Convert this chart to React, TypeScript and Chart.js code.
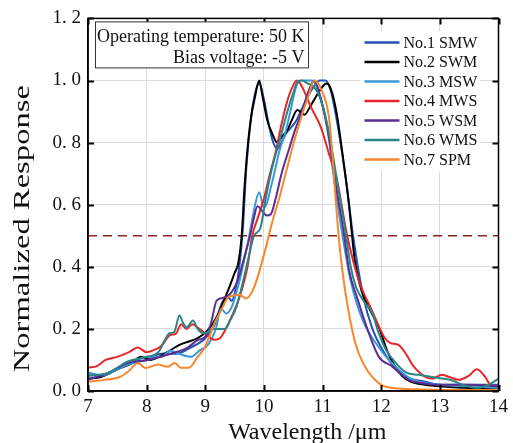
import React, { useEffect, useRef } from "react";
import { Chart, registerables } from "chart.js";

Chart.register(...registerables);

// ---------- data ----------
const seriesNames = ["No.1 SMW", "No.2 SWM", "No.3 MSW", "No.4 MWS", "No.5 WSM", "No.6 WMS", "No.7 SPM"];
const seriesColors = ["#2454B5", "#000000", "#3A9AD9", "#E8262A", "#5C2D91", "#2A8585", "#F7862D"];

const smwX = [7, 7.25, 7.5, 7.75, 8, 8.25, 8.5, 8.75, 9, 9.15, 9.3, 9.4, 9.45, 9.52, 9.58, 9.64, 9.7, 9.78, 9.85, 9.92, 10.0, 10.08, 10.16, 10.23, 10.3, 10.38, 10.47, 10.55, 10.65, 10.75, 10.85, 10.95, 11.05, 11.15, 11.28, 11.4, 11.52, 11.7, 11.85, 12.0, 12.13, 12.3, 12.5, 12.75, 13, 13.5, 14];
const smwY = [0.05, 0.05, 0.07, 0.09, 0.10, 0.12, 0.12, 0.14, 0.17, 0.21, 0.29, 0.30, 0.29, 0.33, 0.40, 0.52, 0.72, 0.88, 0.96, 0.99, 0.94, 0.86, 0.80, 0.78, 0.80, 0.83, 0.85, 0.87, 0.91, 0.95, 0.98, 1.0, 1.0, 0.96, 0.83, 0.68, 0.50, 0.30, 0.20, 0.14, 0.10, 0.06, 0.04, 0.03, 0.02, 0.02, 0.02];

const swmX = [7, 7.22, 7.5, 7.75, 7.9, 8.07, 8.3, 8.58, 8.87, 9.04, 9.2, 9.38, 9.5, 9.56, 9.62, 9.67, 9.72, 9.78, 9.84, 9.92, 9.97, 10.06, 10.14, 10.23, 10.31, 10.4, 10.47, 10.57, 10.69, 10.8, 10.91, 11.0, 11.06, 11.11, 11.23, 11.37, 11.45, 11.55, 11.67, 11.84, 11.97, 12.1, 12.2, 12.35, 12.5, 12.75, 13, 13.5, 14];
const swmY = [0.04, 0.045, 0.07, 0.09, 0.11, 0.10, 0.12, 0.15, 0.17, 0.195, 0.24, 0.32, 0.38, 0.41, 0.5, 0.66, 0.78, 0.88, 0.94, 1.0, 0.955, 0.87, 0.83, 0.80, 0.82, 0.84, 0.87, 0.905, 0.89, 0.92, 0.955, 0.98, 0.99, 0.985, 0.905, 0.72, 0.6, 0.42, 0.32, 0.25, 0.2, 0.13, 0.09, 0.05, 0.03, 0.02, 0.015, 0.01, 0.01];

const mswX = [7, 7.25, 7.5, 7.75, 8, 8.25, 8.4, 8.55, 8.75, 8.9, 9.05, 9.18, 9.27, 9.36, 9.45, 9.55, 9.65, 9.75, 9.85, 9.92, 10.0, 10.15, 10.26, 10.37, 10.45, 10.55, 10.62, 10.72, 10.82, 10.9, 11.0, 11.1, 11.2, 11.34, 11.49, 11.68, 11.96, 12.18, 12.5, 13, 13.5, 14];
const mswY = [0.06, 0.05, 0.07, 0.09, 0.11, 0.11, 0.13, 0.12, 0.11, 0.13, 0.15, 0.2, 0.265, 0.25, 0.27, 0.33, 0.41, 0.5, 0.6, 0.64, 0.59, 0.68, 0.77, 0.835, 0.9, 0.98, 1.0, 1.0, 1.0, 0.98, 0.92, 0.82, 0.675, 0.5, 0.346, 0.23, 0.14, 0.09, 0.04, 0.02, 0.015, 0.01];

const mwsX = [7, 7.15, 7.3, 7.5, 7.7, 7.85, 8.0, 8.1, 8.25, 8.4, 8.5, 8.59, 8.68, 8.78, 8.9, 9.0, 9.15, 9.25, 9.35, 9.45, 9.58, 9.72, 9.8, 9.9, 10.0, 10.09, 10.2, 10.3, 10.4, 10.5, 10.56, 10.62, 10.7, 10.8, 10.97, 11.1, 11.25, 11.42, 11.62, 11.84, 12.05, 12.15, 12.3, 12.42, 12.55, 12.76, 12.88, 13.03, 13.15, 13.32, 13.5, 13.63, 13.77, 13.86, 14];
const mwsY = [0.075, 0.08, 0.1, 0.11, 0.125, 0.14, 0.125, 0.13, 0.145, 0.18, 0.185, 0.215, 0.2, 0.215, 0.2, 0.185, 0.165, 0.17, 0.2, 0.24, 0.3, 0.4, 0.5, 0.56, 0.62, 0.69, 0.77, 0.86, 0.935, 0.985, 1.0, 0.99, 0.96, 0.915, 0.85, 0.77, 0.675, 0.5, 0.355, 0.26, 0.174, 0.155, 0.148, 0.12, 0.08, 0.045, 0.04, 0.052, 0.046, 0.036, 0.05, 0.07, 0.046, 0.02, 0.015];

const wsmX = [7, 7.34, 7.68, 8.02, 8.41, 8.7, 8.87, 9.0, 9.1, 9.19, 9.3, 9.41, 9.55, 9.65, 9.75, 9.82, 9.89, 9.97, 10.05, 10.12, 10.2, 10.3, 10.43, 10.53, 10.63, 10.77, 10.86, 10.97, 11.1, 11.23, 11.37, 11.45, 11.59, 11.79, 11.96, 12.18, 12.47, 12.7, 13, 13.5, 14];
const wsmY = [0.036, 0.058, 0.09, 0.1, 0.12, 0.14, 0.164, 0.175, 0.22, 0.29, 0.3, 0.31, 0.355, 0.42, 0.49, 0.55, 0.595, 0.58, 0.565, 0.57, 0.62, 0.7, 0.78, 0.84, 0.89, 0.97, 1.0, 0.94, 0.83, 0.66, 0.5, 0.39, 0.3, 0.186, 0.11, 0.08, 0.036, 0.025, 0.02, 0.02, 0.015];

const wmsX = [7, 7.34, 7.68, 8.0, 8.2, 8.3, 8.39, 8.47, 8.56, 8.62, 8.68, 8.79, 8.87, 8.96, 9.05, 9.13, 9.33, 9.43, 9.53, 9.64, 9.75, 9.83, 9.94, 10.03, 10.14, 10.26, 10.4, 10.5, 10.57, 10.65, 10.75, 10.85, 10.92, 11.0, 11.1, 11.25, 11.4, 11.48, 11.57, 11.7, 11.85, 11.95, 12.08, 12.25, 12.42, 12.64, 12.98, 13.15, 13.49, 13.63, 13.83, 14];
const wmsY = [0.05, 0.058, 0.095, 0.11, 0.125, 0.16, 0.186, 0.19, 0.243, 0.22, 0.205, 0.227, 0.2, 0.186, 0.19, 0.2, 0.2, 0.23, 0.27, 0.35, 0.44, 0.5, 0.525, 0.62, 0.72, 0.8, 0.9, 0.96, 0.995, 1.0, 0.99, 0.98, 0.96, 0.92, 0.84, 0.675, 0.5, 0.4, 0.335, 0.29, 0.25, 0.19, 0.133, 0.09, 0.06, 0.052, 0.042, 0.037, 0.014, 0.01, 0.02, 0.04];

const spmX = [7, 7.25, 7.54, 7.7, 7.85, 7.98, 8.19, 8.36, 8.48, 8.58, 8.72, 8.87, 8.99, 9.08, 9.16, 9.27, 9.38, 9.47, 9.58, 9.7, 9.8, 9.89, 10.03, 10.15, 10.26, 10.37, 10.48, 10.57, 10.65, 10.76, 10.86, 10.98, 11.11, 11.18, 11.23, 11.3, 11.38, 11.45, 11.55, 11.62, 11.72, 11.84, 12.0, 12.3, 12.7, 13.5, 14];
const spmY = [0.03, 0.035, 0.045, 0.065, 0.09, 0.074, 0.085, 0.078, 0.09, 0.075, 0.075, 0.11, 0.14, 0.18, 0.22, 0.26, 0.3, 0.307, 0.31, 0.298, 0.32, 0.365, 0.46, 0.55, 0.62, 0.7, 0.78, 0.84, 0.89, 0.95, 1.0, 0.97, 0.88, 0.73, 0.6, 0.45, 0.33, 0.25, 0.16, 0.12, 0.08, 0.047, 0.02, 0.008, 0.005, 0.003, 0.003];

const seriesXs = [smwX, swmX, mswX, mwsX, wsmX, wmsX, spmX];
const seriesYs = [smwY, swmY, mswY, mwsY, wsmY, wmsY, spmY];

const refLevel = 0.5;
const noteLines = ["Operating temperature: 50 K", "Bias voltage: -5 V"];
const xTitle = "Wavelength /\u03bcm";
const yTitle = "Normalized Response";
const X_MIN = 7, X_MAX = 14, Y_MIN = 0, Y_MAX = 1.2;

const FONT = '"Liberation Serif", "Times New Roman", serif';

const decorPlugin = {
  id: "decor",
  afterDatasetsDraw(chart: any) {
    const { ctx, chartArea: a, scales } = chart;
    ctx.save();
    ctx.strokeStyle = "#000";
    ctx.lineWidth = 1.5;
    ctx.strokeRect(a.left, a.top, a.right - a.left, a.bottom - a.top);
    const L = 6;
    ctx.beginPath();
    scales.x.ticks.forEach((t: any) => {
      const px = Math.round(scales.x.getPixelForValue(t.value)) + 0.5;
      ctx.moveTo(px, a.bottom); ctx.lineTo(px, a.bottom - L);
      ctx.moveTo(px, a.top); ctx.lineTo(px, a.top + L);
    });
    scales.y.ticks.forEach((t: any) => {
      const py = Math.round(scales.y.getPixelForValue(t.value)) + 0.5;
      ctx.moveTo(a.left, py); ctx.lineTo(a.left + L, py);
      ctx.moveTo(a.right, py); ctx.lineTo(a.right - L, py);
    });
    ctx.lineWidth = 2;
    ctx.stroke();
    ctx.restore();
  },
  afterDraw(chart: any) {
    const { ctx, chartArea: a } = chart;
    ctx.save();
    // note box
    const bx = a.left + 7.5, by = a.top + 3.5, bw = 213, bh = 46;
    ctx.fillStyle = "#fff";
    ctx.fillRect(bx, by, bw, bh);
    ctx.strokeStyle = "#333";
    ctx.lineWidth = 1;
    ctx.strokeRect(bx, by, bw, bh);
    ctx.fillStyle = "#111";
    ctx.font = `18px ${FONT}`;
    ctx.textAlign = "right";
    ctx.textBaseline = "middle";
    noteLines.forEach((s, i) => ctx.fillText(s, bx + bw - 4, by + 15 + i * 21));

    // legend
    const lx = a.right - 134, ly = a.top + 24;
    ctx.fillStyle = "#fff";
    ctx.fillRect(lx - 5, ly - 11, 120, 140);
    ctx.font = `16px ${FONT}`;
    ctx.textAlign = "left";
    seriesNames.forEach((name, i) => {
      const y = ly + i * 19.5;
      ctx.strokeStyle = seriesColors[i];
      ctx.lineWidth = 2.5;
      ctx.beginPath();
      ctx.moveTo(lx, y);
      ctx.lineTo(lx + 35, y);
      ctx.stroke();
      ctx.fillStyle = "#111";
      ctx.fillText(name, lx + 39, y + 1);
    });

    // axis titles
    ctx.fillStyle = "#111";
    ctx.font = `24px ${FONT}`;
    ctx.textAlign = "center";
    ctx.textBaseline = "alphabetic";
    ctx.fillText(xTitle, (a.left + a.right) / 2 + 14, 439);

    ctx.save();
    ctx.translate(23, (a.top + a.bottom) / 2 + 24);
    ctx.rotate(-Math.PI / 2);
    ctx.scale(1.36, 1);
    ctx.textBaseline = "middle";
    ctx.fillText(yTitle, 0, 0);
    ctx.restore();
    ctx.restore();
  },
};

export default function App() {
  const ref = useRef<HTMLCanvasElement>(null);
  useEffect(() => {
    if (!ref.current) return;
    const datasets: any[] = seriesNames.map((name, i) => ({
      label: name,
      data: seriesXs[i].map((x, j) => ({ x, y: seriesYs[i][j] })),
      borderColor: seriesColors[i],
      backgroundColor: seriesColors[i],
      borderWidth: 2,
      pointRadius: 0,
      fill: false,
      cubicInterpolationMode: "monotone",
      order: seriesNames.length - i,
    }));
    datasets.push({
      label: "ref",
      data: [{ x: X_MIN, y: refLevel }, { x: X_MAX, y: refLevel }],
      borderColor: "#8B2323",
      borderWidth: 1.6,
      borderDash: [9, 6],
      pointRadius: 0,
      fill: false,
      order: 20,
    });
    const chart = new Chart(ref.current, {
      type: "line",
      data: { datasets },
      plugins: [decorPlugin],
      options: {
        responsive: false,
        animation: false,
        devicePixelRatio: 1,
        layout: { padding: { left: 0, right: 13, top: 15, bottom: 0 } },
        plugins: { legend: { display: false }, tooltip: { enabled: false } },
        scales: {
          x: {
            type: "linear",
            min: X_MIN,
            max: X_MAX,
            ticks: { stepSize: 1, color: "#111", font: { family: FONT, size: 19 }, padding: 5, maxRotation: 0 },
            grid: { color: "#dcdcdc", lineWidth: 1, drawTicks: false },
            border: { display: true, color: "#000", width: 1.5 },
            afterFit: (s: any) => { s.height = 52; },
          },
          y: {
            type: "linear",
            min: Y_MIN,
            max: Y_MAX,
            ticks: {
              stepSize: 0.2,
              color: "#111",
              font: { family: FONT, size: 19 },
              padding: 7,
              callback: (v: any) => Number(v).toFixed(1).replace(".", ". "),
            },
            grid: { color: "#dcdcdc", lineWidth: 1, drawTicks: false },
            border: { display: true, color: "#000", width: 1.5 },
            afterFit: (s: any) => { s.width = 88; },
          },
        },
      },
    });
    return () => chart.destroy();
  }, []);
  return (
    <div style={{ position: "absolute", left: 0, top: 0, width: 513, height: 443, background: "#fff" }}>
      <canvas ref={ref} width={513} height={443} style={{ display: "block" }} />
    </div>
  );
}
